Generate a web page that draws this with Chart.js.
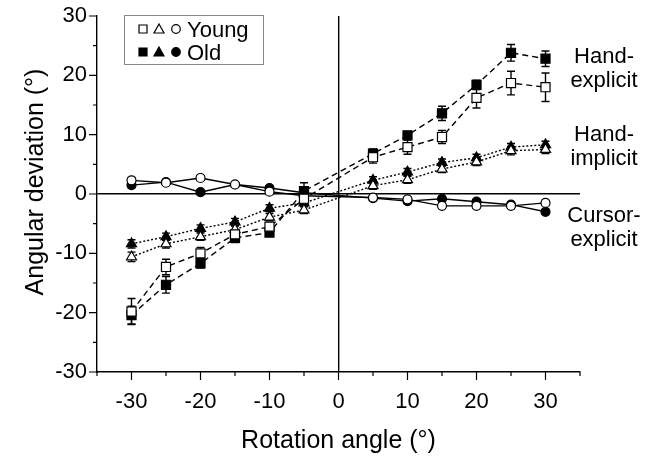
<!DOCTYPE html>
<html>
<head>
<meta charset="utf-8">
<script src="https://cdn.jsdelivr.net/npm/chart.js@4/dist/chart.umd.min.js"></script>
<style>
  html, body { margin: 0; padding: 0; background: #fff; }
  #wrap { width: 651px; height: 459px; }
</style>
</head>
<body>
<div id="wrap"><canvas id="chart" width="651" height="459"></canvas></div>
<script>
// 資料
const angles = [-30, -25, -20, -15, -10, -5, 5, 10, 15, 20, 25, 30];

const handExplicitYoung    = [-19.8, -12.3, -10.0, -6.8, -5.5, -0.8, 6.2, 7.9, 9.6, 16.2, 18.7, 18.0];
const handExplicitYoungErr = [2.2, 1.3, 1.0, 0.8, 0.6, 0.8, 1.0, 1.2, 1.1, 1.7, 2.0, 2.4];
const handExplicitOld      = [-20.4, -15.3, -11.7, -7.4, -6.5, 0.5, 6.8, 9.9, 13.6, 18.4, 23.8, 22.8];
const handExplicitOldErr   = [1.5, 1.4, 0.8, 0.8, 0.6, 1.4, 0.8, 0.6, 1.2, 0.8, 1.4, 1.3];

const handImplicitYoung    = [-10.6, -8.4, -7.2, -6.0, -3.9, -2.7, 1.4, 2.4, 4.2, 5.4, 7.3, 7.5];
const handImplicitYoungErr = [0.8, 0.7, 0.6, 0.6, 0.6, 0.6, 0.6, 0.6, 0.6, 0.6, 0.7, 0.7];
const handImplicitOld      = [-8.4, -7.2, -5.8, -4.7, -2.4, -1.5, 2.3, 3.7, 5.3, 6.1, 7.9, 8.3];
const handImplicitOldErr   = [0.7, 0.6, 0.6, 0.6, 0.6, 0.6, 0.6, 0.6, 0.6, 0.6, 0.6, 0.6];

const cursorExplicitYoung    = [2.3, 1.9, 2.7, 1.6, 0.4, -0.3, -0.6, -0.9, -2.0, -2.0, -2.0, -1.5];
const cursorExplicitYoungErr = [0.5, 0.4, 0.4, 0.4, 0.4, 0.4, 0.4, 0.4, 0.4, 0.4, 0.4, 0.4];
const cursorExplicitOld      = [1.5, 2.0, 0.3, 1.6, 1.0, 0.2, -0.7, -1.2, -0.8, -1.3, -1.8, -3.0];
const cursorExplicitOldErr   = [0.4, 0.4, 0.4, 0.4, 0.4, 0.4, 0.4, 0.4, 0.4, 0.4, 0.4, 0.4];

const xTickLabels = [-30, -20, -10, 0, 10, 20, 30];
const yTickLabels = [-30, -20, -10, 0, 10, 20, 30];
const xMinorTicks = [-35, -25, -15, -5, 5, 15, 25, 35];
const yMinorTicks = [-25, -15, -5, 5, 15, 25];

const conditionLabels = [['Hand-', 'explicit'], ['Hand-', 'implicit'], ['Cursor-', 'explicit']];
const conditionLabelY = [55, 133, 214];

const FONT = "'Liberation Sans', Arial, sans-serif";

function toPoints(values) {
    return angles.map((a, i) => ({ x: a, y: values[i] }));
}

function makeSeries(label, values, errs, style, filled, dash, radius) {
    return {
        label: label,
        data: toPoints(values),
        errors: errs,
        borderColor: '#000',
        borderWidth: 1.4,
        borderDash: dash,
        pointStyle: style,
        pointRadius: radius,
        pointBorderWidth: 1.2,
        pointBorderColor: '#000',
        pointBackgroundColor: filled ? '#000' : '#fff',
        fill: false,
        tension: 0
    };
}

// 誤差線
const errorBarPlugin = {
    id: 'errorBars',
    beforeDatasetsDraw(chart) {
        const ctx = chart.ctx;
        const xs = chart.scales.x, ys = chart.scales.y;
        ctx.save();
        ctx.strokeStyle = '#000';
        ctx.lineWidth = 1.4;
        chart.data.datasets.forEach(ds => {
            ds.data.forEach((p, i) => {
                const e = ds.errors[i];
                const px = xs.getPixelForValue(p.x);
                const top = ys.getPixelForValue(p.y + e);
                const bot = ys.getPixelForValue(p.y - e);
                ctx.beginPath();
                ctx.moveTo(px, top); ctx.lineTo(px, bot);
                ctx.moveTo(px - 4, top); ctx.lineTo(px + 4, top);
                ctx.moveTo(px - 4, bot); ctx.lineTo(px + 4, bot);
                ctx.stroke();
            });
        });
        ctx.restore();
    }
};

// 刻度、標題、圖例與右側標籤
const decorPlugin = {
    id: 'decor',
    afterDraw(chart) {
        const ctx = chart.ctx;
        const xs = chart.scales.x, ys = chart.scales.y;
        const area = chart.chartArea;
        ctx.save();
        ctx.strokeStyle = '#000';
        ctx.lineWidth = 1.2;
        ctx.beginPath();
        xTickLabels.forEach(v => { const p = xs.getPixelForValue(v); ctx.moveTo(p, area.bottom); ctx.lineTo(p, area.bottom + 8); });
        xMinorTicks.forEach(v => { const p = xs.getPixelForValue(v); ctx.moveTo(p, area.bottom); ctx.lineTo(p, area.bottom + 4); });
        yTickLabels.forEach(v => { const p = ys.getPixelForValue(v); ctx.moveTo(area.left, p); ctx.lineTo(area.left - 8, p); });
        yMinorTicks.forEach(v => { const p = ys.getPixelForValue(v); ctx.moveTo(area.left, p); ctx.lineTo(area.left - 4, p); });
        ctx.stroke();

        // y 軸標題
        ctx.fillStyle = '#000';
        ctx.font = '25px ' + FONT;
        ctx.textAlign = 'center';
        ctx.textBaseline = 'middle';
        ctx.save();
        ctx.translate(36, 182);
        ctx.rotate(-Math.PI / 2);
        ctx.fillText('Angular deviation (°)', 0, 0);
        ctx.restore();

        // 右側條件標籤
        ctx.font = '22px ' + FONT;
        ctx.textBaseline = 'alphabetic';
        conditionLabels.forEach((lines, i) => {
            ctx.fillText(lines[0], 604, conditionLabelY[i] + 8);
            ctx.fillText(lines[1], 604, conditionLabelY[i] + 32);
        });

        // 圖例
        ctx.strokeStyle = '#888';
        ctx.lineWidth = 1;
        ctx.strokeRect(124.5, 15.5, 139, 49);
        const rows = [{ y: 29, fill: '#fff', text: 'Young' }, { y: 52, fill: '#000', text: 'Old' }];
        rows.forEach(r => {
            ctx.strokeStyle = '#000';
            ctx.fillStyle = r.fill;
            ctx.lineWidth = 1.2;
            ctx.beginPath(); ctx.rect(139, r.y - 4, 8, 8); ctx.fill(); ctx.stroke();
            ctx.beginPath(); ctx.moveTo(159, r.y - 5); ctx.lineTo(164, r.y + 4); ctx.lineTo(154, r.y + 4); ctx.closePath(); ctx.fill(); ctx.stroke();
            ctx.beginPath(); ctx.arc(176, r.y, 4.3, 0, Math.PI * 2); ctx.fill(); ctx.stroke();
            ctx.fillStyle = '#000';
            ctx.font = '22px ' + FONT;
            ctx.textAlign = 'left';
            ctx.textBaseline = 'alphabetic';
            ctx.fillText(r.text, 187, r.y + 8);
        });
        ctx.restore();
    }
};

document.addEventListener('DOMContentLoaded', function () {
    const ctx = document.getElementById('chart').getContext('2d');
    const zeroLine = c => (c.tick && c.tick.value === 0) ? '#000' : 'rgba(0,0,0,0)';

    new Chart(ctx, {
        type: 'line',
        data: {
            datasets: [
                makeSeries('Hand-explicit Young', handExplicitYoung, handExplicitYoungErr, 'rect', false, [6, 4], 6.4),
                makeSeries('Hand-explicit Old', handExplicitOld, handExplicitOldErr, 'rect', true, [6, 4], 6.4),
                makeSeries('Hand-implicit Young', handImplicitYoung, handImplicitYoungErr, 'triangle', false, [2, 2], 5.8),
                makeSeries('Hand-implicit Old', handImplicitOld, handImplicitOldErr, 'triangle', true, [2, 2], 5.8),
                makeSeries('Cursor-explicit Young', cursorExplicitYoung, cursorExplicitYoungErr, 'circle', false, [], 4.5),
                makeSeries('Cursor-explicit Old', cursorExplicitOld, cursorExplicitOldErr, 'circle', true, [], 4.5)
            ]
        },
        options: {
            responsive: false,
            animation: false,
            layout: { padding: { top: 16, right: 71, left: 0, bottom: 0 } },
            plugins: {
                legend: { display: false },
                tooltip: { enabled: false }
            },
            scales: {
                x: {
                    type: 'linear',
                    min: -35,
                    max: 35,
                    afterBuildTicks: s => { s.ticks = xTickLabels.map(v => ({ value: v })); },
                    afterFit: s => { s.height = 87; s.paddingLeft = 0; s.paddingRight = 0; },
                    grid: { color: zeroLine, lineWidth: 1.4, drawTicks: false },
                    border: { display: true, color: '#000', width: 1.4 },
                    ticks: { color: '#000', padding: 17, font: { family: FONT, size: 22 } },
                    title: {
                        display: true,
                        text: 'Rotation angle (°)',
                        color: '#000',
                        font: { family: FONT, size: 25 },
                        padding: { top: 0, bottom: 3 }
                    }
                },
                y: {
                    min: -30,
                    max: 30,
                    afterBuildTicks: s => { s.ticks = yTickLabels.map(v => ({ value: v })); },
                    afterFit: s => { s.width = 97; s.paddingTop = 0; s.paddingBottom = 0; },
                    grid: { color: zeroLine, lineWidth: 1.4, drawTicks: false },
                    border: { display: true, color: '#000', width: 1.4 },
                    ticks: { color: '#000', padding: 10, font: { family: FONT, size: 22 } }
                }
            }
        },
        plugins: [errorBarPlugin, decorPlugin]
    });
});
</script>
</body>
</html>
